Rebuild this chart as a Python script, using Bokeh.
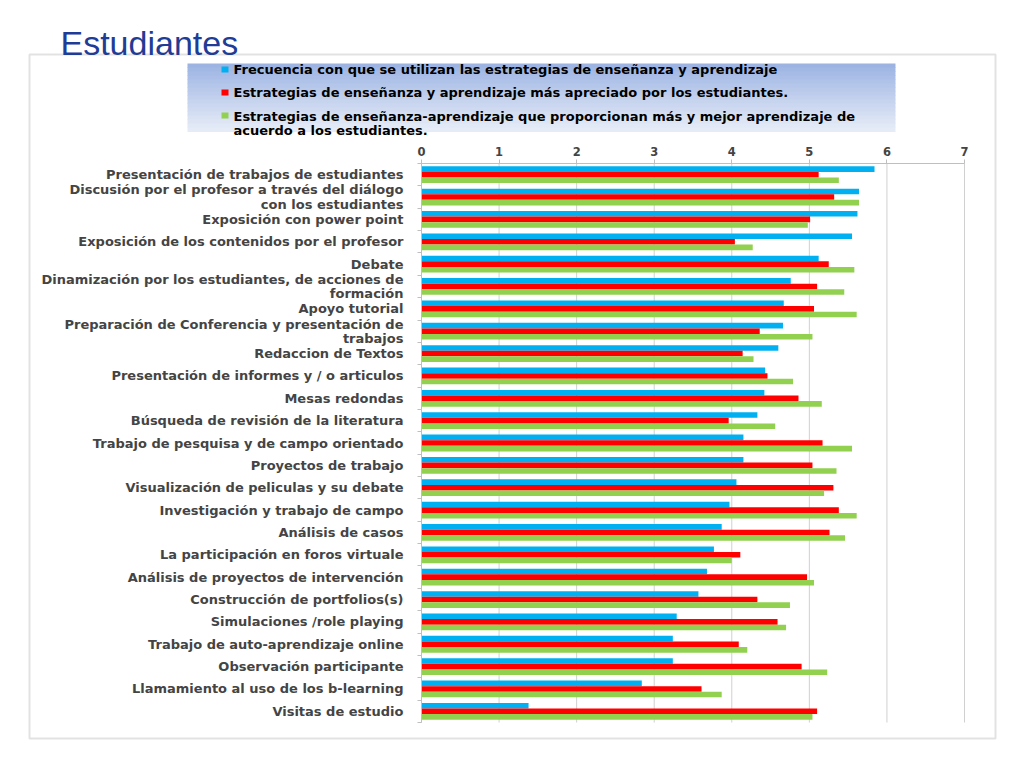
from bokeh.plotting import figure
from bokeh.models import (ColumnDataSource, Range1d, Label, BoxAnnotation, FixedTicker,
                          LinearAxis)
from bokeh.transform import dodge
from bokeh.embed import file_html
from bokeh.resources import INLINE

# ---------------- data ----------------
categories = [
    "Presentación de trabajos de estudiantes",
    "Discusión por el profesor a través del diálogo\ncon los estudiantes",
    "Exposición con power point",
    "Exposición de los contenidos por el profesor",
    "Debate",
    "Dinamización por los estudiantes, de acciones de\nformación",
    "Apoyo tutorial",
    "Preparación de Conferencia y presentación de\ntrabajos",
    "Redaccion de Textos",
    "Presentación de informes y / o articulos",
    "Mesas redondas",
    "Búsqueda de revisión de la literatura",
    "Trabajo de pesquisa y de campo orientado",
    "Proyectos de trabajo",
    "Visualización de peliculas y su debate",
    "Investigación y trabajo de campo",
    "Análisis de casos",
    "La participación en foros virtuale",
    "Análisis de proyectos de intervención",
    "Construcción de portfolios(s)",
    "Simulaciones /role playing",
    "Trabajo de auto-aprendizaje online",
    "Observación participante",
    "Llamamiento al uso de los b-learning",
    "Visitas de estudio",
]
frecuencia = [5.84, 5.64, 5.62, 5.55, 5.12, 4.76, 4.67, 4.66, 4.60, 4.43, 4.42, 4.33, 4.15,
              4.15, 4.06, 3.97, 3.87, 3.77, 3.68, 3.57, 3.29, 3.24, 3.24, 2.84, 1.38]
apreciado = [5.12, 5.32, 5.01, 4.04, 5.25, 5.10, 5.06, 4.36, 4.14, 4.46, 4.86, 3.96, 5.17,
             5.04, 5.31, 5.38, 5.26, 4.11, 4.97, 4.33, 4.59, 4.09, 4.90, 3.61, 5.10]
aprendizaje = [5.38, 5.64, 4.98, 4.27, 5.58, 5.45, 5.61, 5.04, 4.28, 4.79, 5.16, 4.56, 5.55,
               5.35, 5.19, 5.61, 5.46, 4.00, 5.06, 4.75, 4.70, 4.20, 5.23, 3.87, 5.04]
series_names = [
    "Frecuencia con que se utilizan las estrategias de enseñanza y aprendizaje",
    "Estrategias de enseñanza y aprendizaje más apreciado por los estudiantes.",
    "Estrategias de enseñanza-aprendizaje que proporcionan más y mejor aprendizaje de\nacuerdo a los estudiantes.",
]
x_ticks = [0, 1, 2, 3, 4, 5, 6, 7]
title_text = "Estudiantes"

colors = ["#00B0F0", "#FF0000", "#92D050"]
FONT = "DejaVu Sans"

n_cat = len(categories)
ypos = [n_cat - i - 0.5 for i in range(n_cat)]          # category centres, first on top
src = ColumnDataSource(dict(y=ypos, f=frecuencia, a=apreciado, p=aprendizaje))

# ---------- page layout (pixels) ----------
X0, X7 = 421, 964          # page x of value 0 and value 7
YT, YB = 163, 722          # page y of top / bottom of the category band
BL, BR, BT, BB = 29, 995, 54, 738   # bordered area
FL, FR, FT, FB = 10, 1014, 10, 758  # plotting frame
UX = (X7 - X0) / 7.0
UY = (YB - YT) / n_cat


def dx(px):
    return (px - X0) / UX


def dy(py):
    return n_cat - (py - YT) / UY


p = figure(width=1024, height=768, output_backend="svg", toolbar_location=None,
           x_range=Range1d(dx(FL), dx(FR)), y_range=Range1d(dy(FB), dy(FT)),
           x_axis_location=None, y_axis_location=None,
           frame_width=FR - FL, frame_height=FB - FT,
           min_border_left=FL, min_border_right=1024 - FR, min_border_top=FT,
           min_border_bottom=768 - FB)
p.outline_line_color = None
p.background_fill_color = "white"
p.border_fill_color = "white"
p.grid.visible = False

# outer border of the chart area
p.add_layout(BoxAnnotation(left=dx(BL), right=dx(BR), top=dy(BT), bottom=dy(BB),
                           fill_color=None, line_color="#A0A0A0", line_width=2,
                           level="underlay"))

# title
p.add_layout(Label(x=dx(60), y=dy(42.5), text=title_text, text_font="Liberation Sans",
                   text_font_size="34px", text_color="#1F3C96",
                   text_baseline="alphabetic", text_align="left"))

# vertical gridlines, only across the category band
p.segment(x0=x_ticks, x1=x_ticks, y0=[0] * len(x_ticks), y1=[n_cat] * len(x_ticks),
          line_color="#D0D0D0", line_width=1)

h = 0.25
p.hbar(y=dodge("y", 0.25), right="f", left=0, height=h, source=src,
       fill_color=colors[0], line_color=None)
p.hbar(y=dodge("y", 0.0), right="a", left=0, height=h, source=src,
       fill_color=colors[1], line_color=None)
p.hbar(y=dodge("y", -0.25), right="p", left=0, height=h, source=src,
       fill_color=colors[2], line_color=None)

# top value axis, fixed at the top of the category band
xa = LinearAxis(fixed_location=n_cat, ticker=FixedTicker(ticks=x_ticks), bounds=(0, 7))
xa.axis_line_color = "#BFBFBF"
xa.major_tick_line_color = "#BFBFBF"
xa.major_tick_out = 4
xa.major_tick_in = 0
xa.minor_tick_line_color = None
xa.major_label_text_font = FONT
xa.major_label_text_font_style = "bold"
xa.major_label_text_font_size = "11.5px"
xa.major_label_standoff = 4
p.add_layout(xa, "above")

# category axis at x = 0
ya = LinearAxis(fixed_location=0,
                ticker=FixedTicker(ticks=ypos, minor_ticks=list(range(n_cat + 1))),
                bounds=(0, n_cat))
ya.major_label_overrides = {y: c for y, c in zip(ypos, categories)}
ya.axis_line_color = "#BFBFBF"
ya.major_tick_line_color = None
ya.major_tick_out = 0
ya.major_tick_in = 0
ya.minor_tick_line_color = "#BFBFBF"
ya.minor_tick_out = 4
ya.minor_tick_in = 0
ya.major_label_text_font = FONT
ya.major_label_text_font_style = "bold"
ya.major_label_text_font_size = "13px"
ya.major_label_text_line_height = 0.95
ya.major_label_standoff = 14
p.add_layout(ya, "left")

# ---------------- legend ----------------
LT, LBo, LL, LR = 63, 131, 187, 895
n = 17
c0 = (0x9D, 0xB4, 0xE3)
c1 = (0xE6, 0xEC, 0xF7)
step = (LBo - LT) / n
for i in range(n):
    t = i / (n - 1)
    c = "#%02X%02X%02X" % tuple(int(round(c0[k] + (c1[k] - c0[k]) * t)) for k in range(3))
    p.add_layout(BoxAnnotation(left=dx(LL), right=dx(LR), top=dy(LT + i * step),
                               bottom=dy(LT + (i + 1) * step + 0.6),
                               fill_color=c, fill_alpha=1, line_color=None, level="underlay"))

rows = [69, 92, 115]
for i, (name, yy) in enumerate(zip(series_names, rows)):
    p.add_layout(BoxAnnotation(left=dx(221), right=dx(228), top=dy(yy - 3), bottom=dy(yy + 3),
                               fill_color=colors[i], fill_alpha=1, line_color=None))
    p.add_layout(Label(x=dx(233), y=dy(yy if i < 2 else yy - 6.5), text=name,
                       text_font=FONT, text_font_style="bold", text_font_size="13px",
                       text_color="black", text_baseline="middle" if i < 2 else "top",
                       text_line_height=0.95))

open("out.html", "w").write(file_html(p, INLINE))
